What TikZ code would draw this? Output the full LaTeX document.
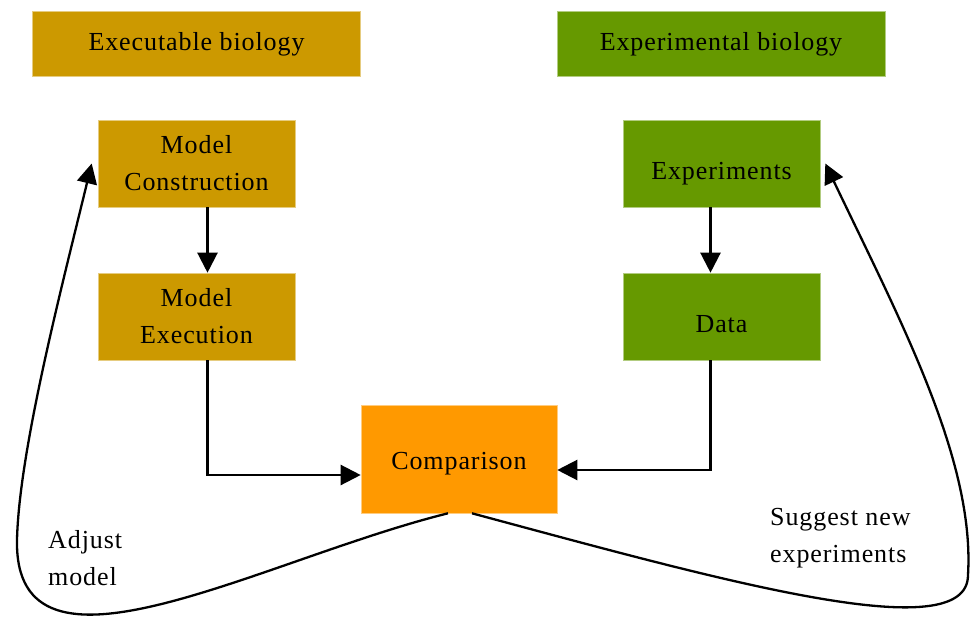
\documentclass[tikz,border=0pt]{standalone}
\usepackage{fontspec}
\setmainfont{Liberation Serif}[LetterSpace=3.5]
\usetikzlibrary{arrows.meta}

\definecolor{execol}{HTML}{CC9900}
\definecolor{expcol}{HTML}{669900}
\definecolor{cmpcol}{HTML}{FF9900}

\begin{document}
\begin{tikzpicture}[x=1pt, y=-1pt,
	box/.style={rectangle, minimum width=197pt, minimum height=87pt, inner sep=0pt, align=center, font=\fontsize{26}{37}\selectfont},
	exe/.style={box, fill=execol, draw=execol!50, line width=0.6pt},
	expt/.style={box, fill=expcol, draw=expcol!50, line width=0.6pt},
	head/.style={minimum width=328pt, minimum height=65pt},
	low/.style={text height=39pt, text depth=6pt},
	lbl/.style={align=left, inner sep=0pt, font=\fontsize{26}{37}\selectfont},
	arr/.style={line width=2.3pt, -{Triangle[length=20pt,width=20pt]}},]

\useasboundingbox (0,0) rectangle (974,617);

% Create the nodes
\node[exe, head] (exebio) at (196.5,44) {Executable biology};
\node[expt, head] (expbio) at (721,44) {Experimental biology};

\node[exe] (mc) at (196.5,163.5) {Model\\Construction};
\node[exe] (me) at (196.5,316.5) {Model\\Execution};
\node[expt, low] (exp) at (721.5,163.5) {Experiments};
\node[expt, low] (data) at (721.5,316.5) {Data};
\node[box, fill=cmpcol, draw=cmpcol!50, line width=0.6pt, minimum width=196pt, minimum height=108pt,
	text height=27pt, text depth=6pt] (cmp) at (459,459) {Comparison};

\node[lbl, anchor=north west] (adj) at (48,530) {Adjust\\model};
\node[lbl, anchor=north west] (sug) at (770,508) {Suggest new\\experiments};

% Arrows
\draw[arr] ([xshift=11pt]mc.south) -- ([xshift=11pt]me.north);
\draw[arr] ([xshift=-11pt]exp.south) -- ([xshift=-11pt]data.north);
\draw[arr] ([xshift=11pt]me.south) |- ([yshift=-16pt]cmp.west);
\draw[arr] ([xshift=-11pt]data.south) |- ([yshift=-11pt]cmp.east);

% Feedback loops
\draw[arr] ([xshift=-11pt]cmp.south) .. controls (260,560) and (14,700) .. (17,540)
	.. controls (19,450) and (63,282) .. ([xshift=-6pt]mc.west);
\draw[arr] ([xshift=13pt]cmp.south) .. controls (720,580) and (968,650) .. (968,575)
	.. controls (975,460) and (900,320) .. ([xshift=5pt]exp.east);

\end{tikzpicture}
\end{document}
